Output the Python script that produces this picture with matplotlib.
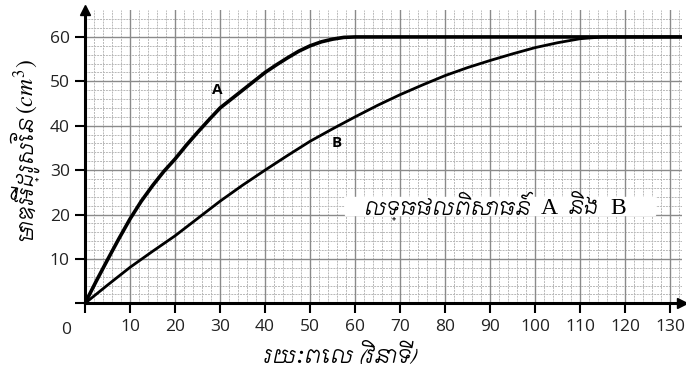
import matplotlib
matplotlib.use("Agg")
import matplotlib.pyplot as plt
from matplotlib import font_manager
import numpy as np

# Volume of hydrogen released over time for two experiments
time_a = [0, 2.5, 5, 7.5, 10, 12.5, 15, 17.5, 20, 22.5, 25, 27.5, 30, 32.5,
          35, 37.5, 40, 42.5, 45, 47.5, 50, 52.5, 55, 57.5, 60, 133]
vol_a = [0, 5, 9.8, 14.5, 19, 23, 26.5, 29.7, 32.5, 35.6, 38.5, 41.3, 44, 46,
         48, 50, 52, 53.7, 55.3, 56.8, 58, 58.9, 59.5, 59.9, 60, 60]
time_b = [0, 5, 10, 15, 20, 25, 30, 35, 40, 45, 50, 55, 60, 65, 70, 75, 80,
          85, 90, 95, 100, 105, 110, 115, 133]
vol_b = [0, 4.1, 8.1, 11.7, 15.2, 19.1, 23, 26.6, 30, 33.3, 36.5, 39.3, 42,
         44.6, 47, 49.2, 51.3, 53.1, 54.7, 56.2, 57.6, 58.7, 59.6, 60, 60]

x_ticks = list(range(10, 131, 10))
y_ticks = list(range(10, 61, 10))

x_label = "រយៈពេល (វិនាទី)"
y_label = "មាឌអ៊ីដ្រូសែន"
y_unit = r"$(cm^3)$"
caption_parts = ["លទ្ធផលពិសោធន៍", "A", "និង", "B"]

plt.rcParams["mathtext.fontset"] = "stix"


def khmer_font():
    paths = font_manager.findSystemFonts()
    for name in ("Freehand", "Fasthand", "Metal"):
        for p in paths:
            if name.lower() in p.lower():
                return font_manager.FontProperties(fname=p)
    return font_manager.FontProperties(family="DejaVu Serif")


kh = khmer_font()

fig = plt.figure(figsize=(6.86, 3.81), dpi=100)
ax = fig.add_axes([85 / 686, 1 - 303.3 / 381, 597 / 686, 293 / 381])
ax.set_xlim(0, 132.6)
ax.set_ylim(0, 66)

# graph-paper grid
for v in np.arange(2, 133, 2):
    if v % 10:
        ax.axvline(v, color="#b8b8b8", lw=0.7, ls=(0, (2, 1)), zorder=0)
for v in np.arange(2, 66, 2):
    if v % 10:
        ax.axhline(v, color="#b8b8b8", lw=0.7, ls=(0, (2, 1)), zorder=0)
for v in range(10, 133, 10):
    ax.axvline(v, color="#8a8a8a", lw=1.0, zorder=0)
for v in range(10, 66, 10):
    ax.axhline(v, color="#8a8a8a", lw=1.0, zorder=0)

ax.plot(time_a, vol_a, color="black", lw=2.6, solid_joinstyle="round",
        solid_capstyle="round", zorder=3)
ax.plot(time_b, vol_b, color="black", lw=2.0, solid_joinstyle="round",
        solid_capstyle="round", zorder=3)

ax.text(29.3, 48, "A", fontsize=11, fontweight="bold", family="Open Sans",
        ha="center", va="center", zorder=4)
ax.text(56, 36, "B", fontsize=11, fontweight="bold", family="Open Sans",
        ha="center", va="center", zorder=4)

# white band with the caption: Khmer words with serif letters A and B
ax.axhspan(19.9, 24.0, xmin=57.8 / 132.6, xmax=126.5 / 132.6,
           color="white", zorder=2)
caption_x = [62.0, 101.3, 107.2, 116.7]
for part, cx in zip(caption_parts, caption_x):
    if part in ("A", "B"):
        ax.text(cx, 20.1, part, family="Liberation Serif", fontsize=17,
                ha="left", va="baseline", zorder=4)
    else:
        ax.text(cx, 20.1, part, fontproperties=kh, fontsize=13.5,
                ha="left", va="baseline", zorder=4)

for side in ("top", "right"):
    ax.spines[side].set_visible(False)
for side in ("left", "bottom"):
    ax.spines[side].set_linewidth(2.2)
    ax.spines[side].set_zorder(5)

ax.set_xticks(x_ticks)
ax.set_yticks(y_ticks)
ax.set_xticks([0], minor=True)
ax.set_yticks([0], minor=True)
ax.tick_params(which="both", direction="out", length=7, width=1.5, color="black")
ax.tick_params(axis="both", which="major", labelsize=12.5, pad=4)
for lab in ax.get_xticklabels() + ax.get_yticklabels():
    lab.set_family("Open Sans")
    lab.set_color("#222222")
ax.text(-4.3, -4.3, "0", fontsize=12.5, family="Open Sans", color="#222222",
        ha="center", va="top", clip_on=False)

# arrow heads on the axes
ax.plot(1, 0, ">k", transform=ax.transAxes, clip_on=False, ms=7, zorder=6)
ax.plot(0, 1, "^k", transform=ax.transAxes, clip_on=False, ms=7, zorder=6)

fig.text(340 / 686, 1 - 358 / 381, x_label, fontproperties=kh, fontsize=14,
         ha="center", va="center")
fig.text(24 / 686, 1 - 178 / 381, y_label, fontproperties=kh,
         fontsize=13.5, rotation=90, ha="center", va="center")
fig.text(26 / 686, 1 - 86 / 381, y_unit, fontsize=17, rotation=90,
         ha="center", va="center")
fig.savefig("out.png", dpi=100)
